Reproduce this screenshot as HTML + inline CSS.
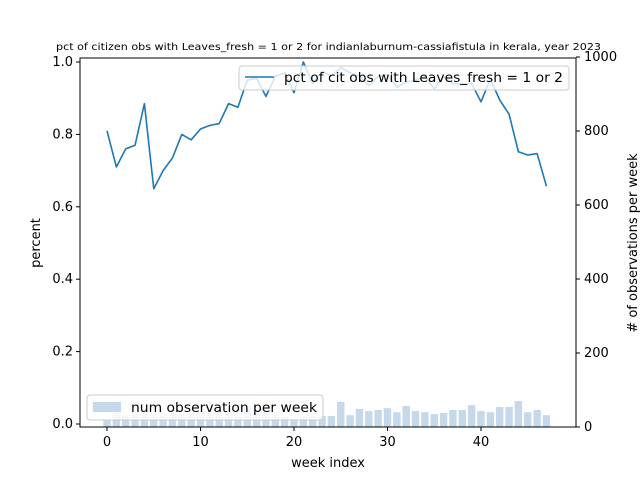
<!DOCTYPE html>
<html><head><meta charset="utf-8"><style>body{margin:0;background:#fff}svg{display:block;font-family:"DejaVu Sans","Liberation Sans",sans-serif}</style></head>
<body>
<svg id="c" width="640" height="480"></svg>
<script>
const weeks=[...Array(48).keys()];
const pctValues=[0.81,0.71,0.76,0.77,0.885,0.65,0.70,0.735,0.80,0.785,0.815,0.825,0.83,0.885,0.875,0.95,0.955,0.905,0.96,0.97,0.915,1.0,0.94,0.975,0.96,0.985,0.97,0.96,0.935,0.96,0.965,0.93,0.945,0.95,0.96,0.925,0.96,0.94,0.94,0.94,0.89,0.953,0.895,0.856,0.752,0.743,0.747,0.657];
const obsCounts=[19,54,32,38,40,35,30,35,35,35,40,40,40,43,57,57,46,46,40,27,22,30,30,30,30,68,32,49,43,46,51,40,57,43,40,35,38,46,46,59,43,40,54,54,70,40,46,32];
const leftTicks=[0,0.2,0.4,0.6,0.8,1.0];
const rightTicks=[0,200,400,600,800,1000];
const xTicks=[0,10,20,30,40];
const NS='http://www.w3.org/2000/svg',svg=document.getElementById('c');
const X=v=>107+v*9.35, YL=v=>424-v*362, YR=v=>427-v*0.37;
function mk(t,a,txt){const e=document.createElementNS(NS,t);for(const k in a)e.setAttribute(k,a[k]);if(txt!==undefined)e.textContent=txt;svg.appendChild(e);return e;}
let e;
weeks.forEach((w,i)=>{e=mk('rect',{x:X(w)-3.7,y:YR(obsCounts[i]),width:7.4,height:427-YR(obsCounts[i]),fill:'#c5d9eb'});

});
e=mk('polyline',{points:weeks.map((w,i)=>X(w)+','+YL(pctValues[i])).join(' '),fill:'none',stroke:'#1f77b4','stroke-width':1.6,'stroke-linejoin':'round'});


e=mk('rect',{x:80,y:58,width:496,height:369,fill:'none',stroke:'#000','stroke-width':1});


leftTicks.forEach(t=>{mk('line',{x1:76,x2:80,y1:YL(t),y2:YL(t),stroke:'#000'});
e=mk('text',{x:73,y:YL(t)+4,'text-anchor':'end','font-size':13},t.toFixed(1));

});
rightTicks.forEach(t=>{mk('line',{x1:576,x2:580,y1:YR(t),y2:YR(t),stroke:'#000'});
e=mk('text',{x:584,y:YR(t)+4,'font-size':13},t);

});
xTicks.forEach(t=>{mk('line',{x1:X(t),x2:X(t),y1:427,y2:431,stroke:'#000'});
e=mk('text',{x:X(t),y:446,'text-anchor':'middle','font-size':13},t);

});
</script>
<svg width="640" height="480" style="position:absolute;left:0;top:0">
<text x="56" y="50" font-size="10" textLength="545" lengthAdjust="spacingAndGlyphs">pct of citizen obs with Leaves_fresh = 1 or 2 for indianlaburnum-cassiafistula in kerala, year 2023</text>
<text x="328" y="467" text-anchor="middle" font-size="13">week index</text>
<text transform="translate(40,243) rotate(-90)" text-anchor="middle" font-size="13">percent</text>
<text transform="translate(637,243) rotate(-90)" text-anchor="middle" font-size="13"># of observations per week</text>
<g><rect x="239" y="66" width="330" height="24" rx="3" fill="#fff" fill-opacity="0.8" stroke="#ccc"/><line x1="245" x2="274" y1="77" y2="77" stroke="#1f77b4" stroke-width="1.6"/><text x="284" y="82" font-size="13" textLength="279" lengthAdjust="spacingAndGlyphs">pct of cit obs with Leaves_fresh = 1 or 2</text></g>
<g><rect x="87" y="395" width="236" height="25" rx="3" fill="#fff" fill-opacity="0.8" stroke="#ccc"/><rect x="93" y="402" width="28" height="10" fill="#c5d9eb"/><text x="131" y="412" font-size="13" textLength="186" lengthAdjust="spacingAndGlyphs">num observation per week</text></g>
</svg>
</body></html>
